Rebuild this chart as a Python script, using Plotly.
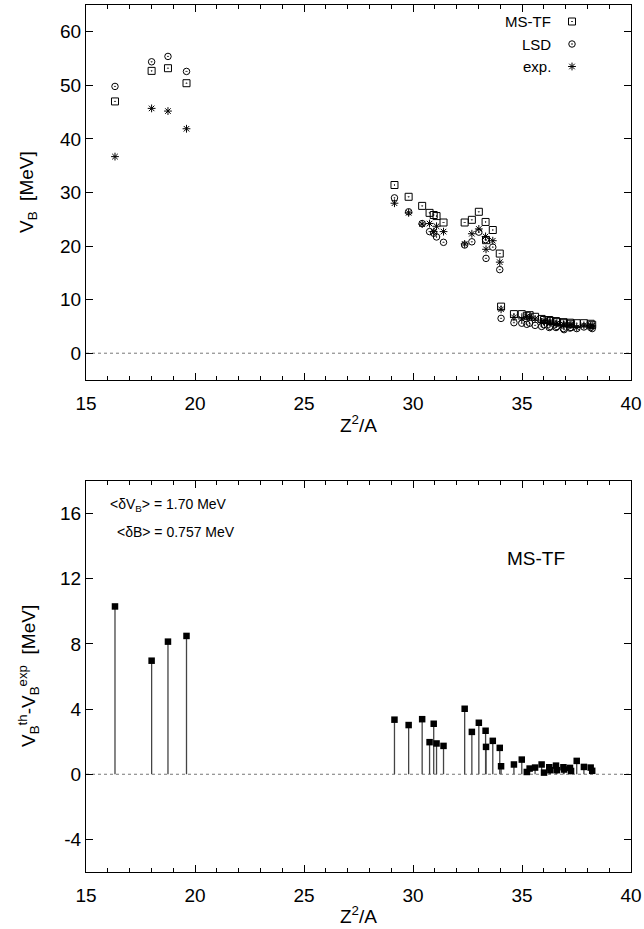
import plotly.graph_objects as go

# ---- data ----
z2a = [16.33, 18.01, 18.76, 19.61,
       29.15, 29.80, 30.42, 30.76, 30.95, 31.08, 31.40, 32.37, 32.70, 33.02, 33.33, 33.35, 33.66, 33.98, 34.04,
       34.63, 34.99, 35.22, 35.35, 35.60, 35.90, 36.01, 36.25, 36.30, 36.56, 36.60, 36.90, 36.93, 37.20, 37.25,
       37.51, 37.84, 38.15, 38.22]
vb_mstf = [47.0, 52.7, 53.2, 50.4,
           31.4, 29.2, 27.5, 26.2, 25.8, 25.6, 24.4, 24.4, 24.9, 26.4, 24.5, 21.1, 23.0, 18.6, 8.7,
           7.3, 7.3, 7.0, 7.1, 6.8, 6.4, 6.2, 6.2, 6.0, 6.0, 5.8, 5.8, 5.6, 5.7, 5.5,
           5.6, 5.6, 5.5, 5.3]
vb_lsd = [49.8, 54.4, 55.4, 52.6,
          29.0, 26.4, 24.2, 22.7, 22.4, 21.7, 20.7, 20.2, 20.8, 22.6, 21.2, 17.7, 19.8, 15.6, 6.5,
          5.7, 5.6, 5.4, 5.6, 5.2, 5.0, 5.3, 4.8, 5.0, 4.8, 5.0, 4.6, 4.4, 4.7, 4.8,
          4.6, 4.9, 4.8, 4.6]
vb_exp = [36.7, 45.7, 45.2, 41.9,
          28.0, 26.2, 24.1, 24.2, 22.7, 23.7, 22.7, 20.4, 22.3, 23.2, 21.8, 19.4, 21.0, 17.0, 8.2,
          6.7, 6.4, 6.9, 6.7, 6.4, 5.8, 6.1, 5.8, 5.8, 5.5, 5.6, 5.4, 5.3, 5.3, 5.3,
          4.8, 5.2, 5.1, 5.1]
dvb = [10.30, 6.97, 8.14, 8.49,
       3.35, 3.02, 3.38, 1.97, 3.10, 1.89, 1.74, 4.02, 2.60, 3.16, 2.67, 1.68, 2.05, 1.62, 0.49,
       0.60, 0.90, 0.14, 0.35, 0.41, 0.60, 0.10, 0.43, 0.25, 0.53, 0.25, 0.43, 0.29, 0.39, 0.20,
       0.82, 0.45, 0.41, 0.21]

legend_names = ["MS-TF", "LSD", "exp."]
x_ticks = [15, 20, 25, 30, 35, 40]
y1_ticks = [0, 10, 20, 30, 40, 50, 60]
y2_ticks = [-4, 0, 4, 8, 12, 16]

W, H = 644, 929
FONT = "Liberation Sans, Arial, sans-serif"
TICKF = 19

def px_x(p):
    return p / W

def px_y(p):
    return 1 - p / H

xdom = [px_x(86), px_x(631)]
top_dom = [px_y(380), px_y(5)]
bot_dom = [px_y(872), px_y(481)]

fig = go.Figure()

mk_line = dict(color="black", width=1)
fig.add_trace(go.Scatter(x=z2a, y=vb_mstf, mode="markers", xaxis="x", yaxis="y",
                         marker=dict(symbol="square-open-dot", size=7, color="black", line=mk_line),
                         showlegend=False))
fig.add_trace(go.Scatter(x=z2a, y=vb_lsd, mode="markers", xaxis="x", yaxis="y",
                         marker=dict(symbol="circle-open-dot", size=6.5, color="black", line=mk_line),
                         showlegend=False))
fig.add_trace(go.Scatter(x=z2a, y=vb_exp, mode="markers", xaxis="x", yaxis="y",
                         marker=dict(symbol="asterisk-open", size=6.5, color="black", line=mk_line),
                         showlegend=False))

# legend keys on an overlay axis (fractions of the top frame)
key_x = (572 - 86) / 545
key_y = [(380 - p) / 375 for p in (21.5, 44, 66.5)]
syms = [("square-open-dot", 7), ("circle-open-dot", 6.5), ("asterisk-open", 6.5)]
for (s, sz), ky in zip(syms, key_y):
    fig.add_trace(go.Scatter(x=[key_x], y=[ky], mode="markers", xaxis="x3", yaxis="y3",
                             marker=dict(symbol=s, size=sz, color="black", line=mk_line),
                             showlegend=False, hoverinfo="skip"))

# bottom: stems via error bars
fig.add_trace(go.Scatter(x=z2a, y=dvb, mode="markers", xaxis="x2", yaxis="y2",
                         marker=dict(symbol="square", size=6.5, color="black"),
                         error_y=dict(type="data", symmetric=False, array=[0] * len(dvb),
                                      arrayminus=dvb, width=0, thickness=1.3, color="#444"),
                         showlegend=False))

axis_common = dict(showline=True, linecolor="black", linewidth=1, mirror="allticks",
                   ticks="inside", ticklen=7, tickcolor="black", showgrid=False, zeroline=False,
                   automargin=False,
                   tickfont=dict(family=FONT, size=TICKF, color="black"))

xcommon = dict(axis_common, range=[15, 40], tickmode="array", tickvals=x_ticks,
               ticktext=[str(t) for t in x_ticks], domain=xdom,
               minor=dict(ticks="inside", ticklen=4, dtick=1, tickcolor="black", showgrid=False),
               ticklabelstandoff=6)

fig.update_layout(
    width=W, height=H, margin=dict(l=0, r=0, t=0, b=0, autoexpand=False),
    paper_bgcolor="white", plot_bgcolor="white", showlegend=False,
    xaxis=dict(xcommon, anchor="y"),
    yaxis=dict(axis_common, range=[-5, 65], domain=top_dom, anchor="x",
               tickmode="array", tickvals=y1_ticks, ticktext=[str(t) for t in y1_ticks]),
    xaxis2=dict(xcommon, anchor="y2"),
    yaxis2=dict(axis_common, range=[-6, 18], domain=bot_dom, anchor="x2",
                tickmode="array", tickvals=y2_ticks, ticktext=[str(t) for t in y2_ticks]),
    xaxis3=dict(range=[0, 1], domain=xdom, anchor="y3", visible=False, overlaying="x"),
    yaxis3=dict(range=[0, 1], domain=top_dom, anchor="x3", visible=False, overlaying="y"),
)

# dotted zero lines
for xr, yr in (("x", "y"), ("x2", "y2")):
    fig.add_shape(type="line", xref=xr, yref=yr, x0=15, x1=40, y0=0, y1=0,
                  line=dict(color="#777", width=1, dash="dot"), layer="below")

tfont = dict(family=FONT, size=TICKF, color="black")
# axis titles as annotations
fig.add_annotation(text="Z<sup>2</sup>/A", xref="paper", yref="paper", x=px_x(358), y=px_y(424),
                   xanchor="center", yanchor="middle", showarrow=False, font=tfont)
fig.add_annotation(text="Z<sup>2</sup>/A", xref="paper", yref="paper", x=px_x(358), y=px_y(915),
                   xanchor="center", yanchor="middle", showarrow=False, font=tfont)
fig.add_annotation(text="V<sub>B</sub>  [MeV]", xref="paper", yref="paper", x=px_x(28), y=px_y(192),
                   xanchor="center", yanchor="middle", showarrow=False, textangle=-90, font=tfont)
fig.add_annotation(text="V<sub>B</sub><sup>th</sup>-V<sub>B</sub><sup>exp</sup>  [MeV]",
                   xref="paper", yref="paper", x=px_x(28), y=px_y(676),
                   xanchor="center", yanchor="middle", showarrow=False, textangle=-90, font=tfont)

# legend texts
for name, py in zip(legend_names, (21.5, 44, 66.5)):
    fig.add_annotation(text=name, xref="paper", yref="paper", x=px_x(553), y=px_y(py),
                       xanchor="right", yanchor="middle", showarrow=False,
                       font=dict(family=FONT, size=15, color="black"))

fig.add_annotation(text="&lt;δV<sub>B</sub>&gt; = 1.70 MeV", xref="paper", yref="paper",
                   x=px_x(108), y=px_y(505), xanchor="left", yanchor="middle", showarrow=False,
                   font=dict(family=FONT, size=14, color="black"))
fig.add_annotation(text="&lt;δB&gt; = 0.757 MeV", xref="paper", yref="paper",
                   x=px_x(115), y=px_y(532), xanchor="left", yanchor="middle", showarrow=False,
                   font=dict(family=FONT, size=14, color="black"))
fig.add_annotation(text="MS-TF", xref="paper", yref="paper",
                   x=px_x(505), y=px_y(558), xanchor="left", yanchor="middle", showarrow=False,
                   font=dict(family=FONT, size=19, color="black"))

fig.write_html("out.html")
